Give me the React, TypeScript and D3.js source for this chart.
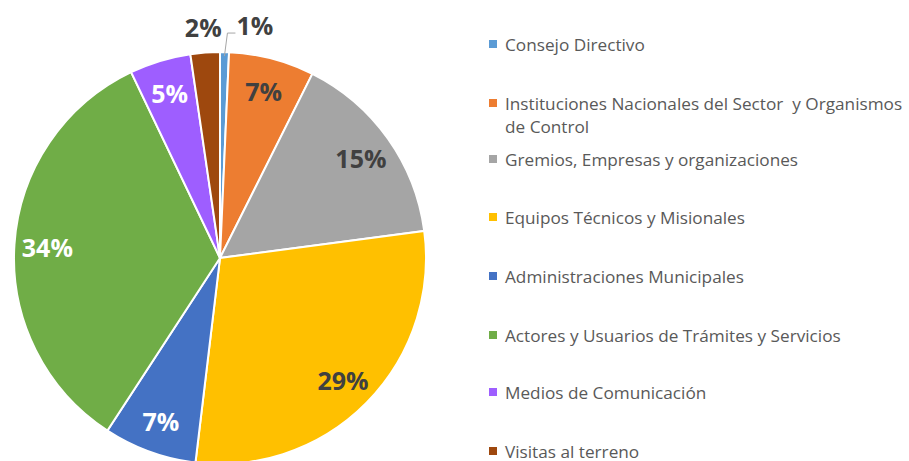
import React from "react";
import * as d3 from "d3";

const categories = [
  "Consejo Directivo",
  "Instituciones Nacionales del Sector  y Organismos de Control",
  "Gremios, Empresas y organizaciones",
  "Equipos Técnicos y Misionales",
  "Administraciones Municipales",
  "Actores y Usuarios de Trámites y Servicios",
  "Medios de Comunicación",
  "Visitas al terreno",
];
const values = [0.7, 6.7, 15.5, 29.0, 7.3, 33.7, 4.8, 2.3];
const percentLabels = ["1%", "7%", "15%", "29%", "7%", "34%", "5%", "2%"];
const legendLines = [
  ["Consejo Directivo"],
  ["Instituciones Nacionales del Sector  y Organismos", "de Control"],
  ["Gremios, Empresas y organizaciones"],
  ["Equipos Técnicos y Misionales"],
  ["Administraciones Municipales"],
  ["Actores y Usuarios de Trámites y Servicios"],
  ["Medios de Comunicación"],
  ["Visitas al terreno"],
];
const colors = ["#5B9BD5", "#ED7D31", "#A5A5A5", "#FFC000", "#4472C4", "#70AD47", "#9E5EFF", "#9E480E"];
const labelColors = ["#404040", "#404040", "#404040", "#404040", "#FFFFFF", "#FFFFFF", "#FFFFFF", "#404040"];

const W = 909;
const H = 461;
const cx = 220;
const cy = 258;
const R = 206;
const font = "'Open Sans', Lato, sans-serif";

export default function App() {
  const pie = d3.pie<number>().sort(null).value((d) => d)(values);
  const arc = d3.arc<d3.PieArcDatum<number>>().innerRadius(0).outerRadius(R);
  const labelArc = d3.arc<d3.PieArcDatum<number>>().innerRadius(173).outerRadius(173);
  const legendY = [44, 103, 159, 217, 276, 335, 392, 451];

  return (
    <svg width={W} height={H} style={{ position: "absolute", left: 0, top: 0, background: "#fff" }}>
      <g transform={`translate(${cx},${cy})`}>
        {pie.map((p, i) => (
          <path key={i} d={arc(p) || ""} fill={colors[i]} stroke="#fff" strokeWidth={2} />
        ))}
        {pie.map((p, i) => {
          const v = values[i];
          const mid = (p.startAngle + p.endAngle) / 2;
          if (v >= 3) {
            const [x, y] = labelArc.centroid(p);
            return (
              <text key={i} x={x} y={y} textAnchor="middle" dominantBaseline="central"
                fontFamily={font} fontWeight={700} fontSize={25} fill={labelColors[i]}>
                {percentLabels[i]}
              </text>
            );
          }
          if (v >= 1) {
            const r = R + 26;
            return (
              <text key={i} x={Math.sin(mid) * r} y={-Math.cos(mid) * r} textAnchor="middle" dominantBaseline="central"
                fontFamily={font} fontWeight={700} fontSize={25} fill={labelColors[i]}>
                {percentLabels[i]}
              </text>
            );
          }
          const x0 = Math.sin(mid) * (R - 4);
          const y0 = -Math.cos(mid) * (R - 4);
          const y1 = -Math.cos(mid) * (R + 19);
          const x1 = x0 + 3;
          const x2 = x1 + 8;
          return (
            <g key={i}>
              <polyline points={`${x0},${y0} ${x1},${y1} ${x2},${y1}`} fill="none" stroke="#A6A6A6" strokeWidth={1} />
              <text x={x2 + 1} y={y1 - 8} textAnchor="start" dominantBaseline="central"
                fontFamily={font} fontWeight={700} fontSize={25} fill={labelColors[i]}>
                {percentLabels[i]}
              </text>
            </g>
          );
        })}
      </g>
      <g>
        {categories.map((c, i) => (
          <g key={c}>
            <rect x={489} y={legendY[i] - 4} width={8} height={8} fill={colors[i]} />
            {legendLines[i].map((ln, j) => (
              <text key={j} x={505} y={legendY[i] + j * 23} dominantBaseline="central"
                fontFamily={font} fontSize={17.2} fill="#595959" style={{ whiteSpace: "pre" }}>
                {ln}
              </text>
            ))}
          </g>
        ))}
      </g>
    </svg>
  );
}
